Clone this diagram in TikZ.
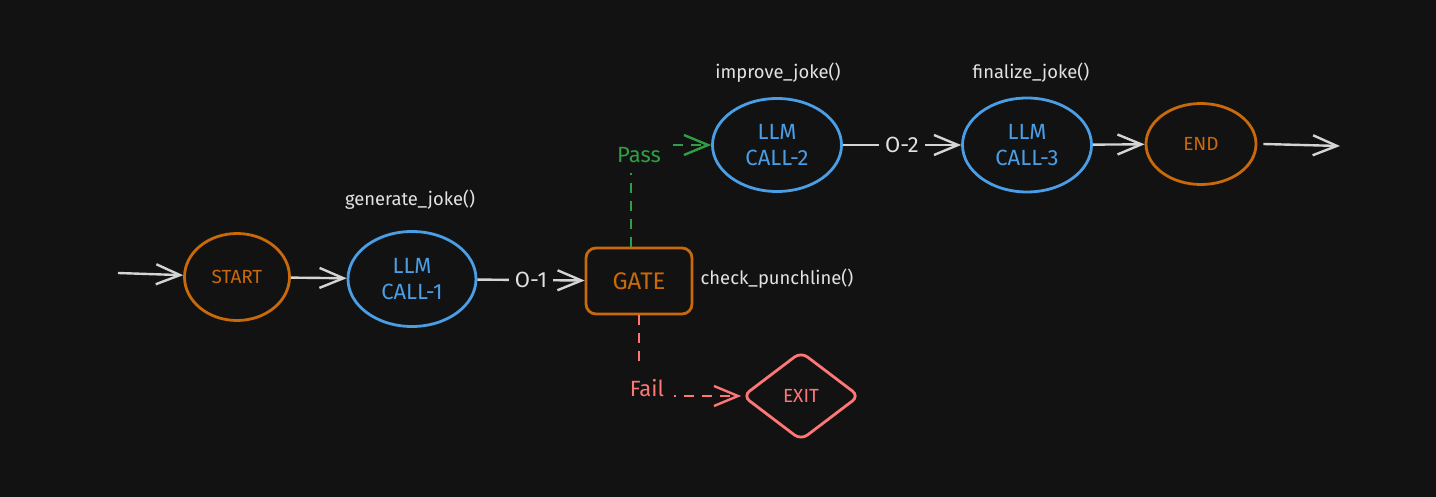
\documentclass[tikz,border=0pt]{standalone}
\usepackage{fontspec}
\setmainfont{Fira Sans}
\usetikzlibrary{shapes.geometric,arrows.meta}
\definecolor{bg}{HTML}{121212}
\definecolor{orng}{HTML}{C8690A}
\definecolor{blu}{HTML}{4A9EE6}
\definecolor{grn}{HTML}{2F9E44}
\definecolor{rd}{HTML}{FF7676}
\definecolor{lgray}{HTML}{D4D4D4}
\definecolor{tgray}{HTML}{E2E2E2}
\begin{document}
\begin{tikzpicture}[x=0.5pt,y=-0.5pt,
  barb/.tip={Straight Barb[length=12pt,width=10pt,line width=1.2pt]},
  arr/.style={draw=lgray, line width=1.2pt, -barb},
  ostate/.style={ellipse, draw=orng, line width=1.4pt, inner sep=0pt, text=orng, font=\fontsize{9.5}{11}\selectfont},
  llm/.style={ellipse, draw=blu, line width=1.4pt, inner sep=0pt, text=blu, align=center, font=\fontsize{11}{13}\selectfont},
  note/.style={text=tgray, font=\fontsize{9.2}{11}\selectfont},
  elabel/.style={fill=bg, text=tgray, inner sep=3pt, font=\fontsize{11}{13}\selectfont},
  passl/.style={draw=grn, line width=1.2pt, dash pattern=on 5pt off 4pt, -barb},
  faill/.style={draw=rd, line width=1.2pt, dash pattern=on 5pt off 4pt, -barb},
]
\fill[bg] (0,0) rectangle (1436,497);
\useasboundingbox (0,0) rectangle (1436,497);

% nodes
\node[ostate, minimum width=52.5pt, minimum height=43.5pt] (start) at (237,277) {START};
\node[llm, minimum width=64pt, minimum height=47.5pt] (llm1) at (412,279) {LLM\\CALL-1};
\node[draw=orng, line width=1.4pt, rounded corners=5pt, minimum width=53pt, minimum height=33pt, text=orng, font=\fontsize{12}{14}\selectfont] (gate) at (639,281) {GATE};
\node[diamond, draw=rd, line width=1.4pt, rounded corners=4pt, minimum width=58.5pt, minimum height=44.5pt, inner sep=0pt, text=rd, font=\fontsize{9.5}{11}\selectfont] (exit) at (801,396) {EXIT};
\node[llm, minimum width=64.5pt, minimum height=46.5pt] (llm2) at (777,145) {LLM\\CALL-2};
\node[llm, minimum width=64.5pt, minimum height=47pt] (llm3) at (1027,145) {LLM\\CALL-3};
\node[ostate, minimum width=55pt, minimum height=40.5pt] (fin) at (1201,144) {END};

% notes
\node[note] (n1) at (410,200) {generate\_joke()};
\node[note] (n2) at (777,279) {check\_punchline()};
\node[note] (n3) at (778,73) {improve\_joke()};
\node[note] (n4) at (1031,73) {finalize\_joke()};

% connectors
\coordinate (in) at (118,273);
\coordinate (out) at (1340,146);
\draw[arr] (in) -- (start);
\draw[arr] (start) -- (llm1);
\draw[arr] (llm1) -- node[elabel] (o1) {O-1} (gate);
\draw[arr] (llm2) -- node[elabel] (o2) {O-2} (llm3);
\draw[arr] (llm3) -- (fin);
\draw[arr] ([xshift=3pt]fin.east) -- (out);
\draw[passl] ([xshift=-4pt]gate.north) |- node[pos=0.5, fill=bg, text=grn, inner sep=5pt, xshift=4pt, yshift=-5pt, font=\fontsize{11}{13}\selectfont] (pass) {Pass} (llm2.west);
\draw[faill] (gate.south) |- node[pos=0.5, fill=bg, text=rd, inner sep=5pt, xshift=4pt, yshift=4pt, font=\fontsize{11}{13}\selectfont] (fail) {Fail} (exit.west);
\end{tikzpicture}
\end{document}
